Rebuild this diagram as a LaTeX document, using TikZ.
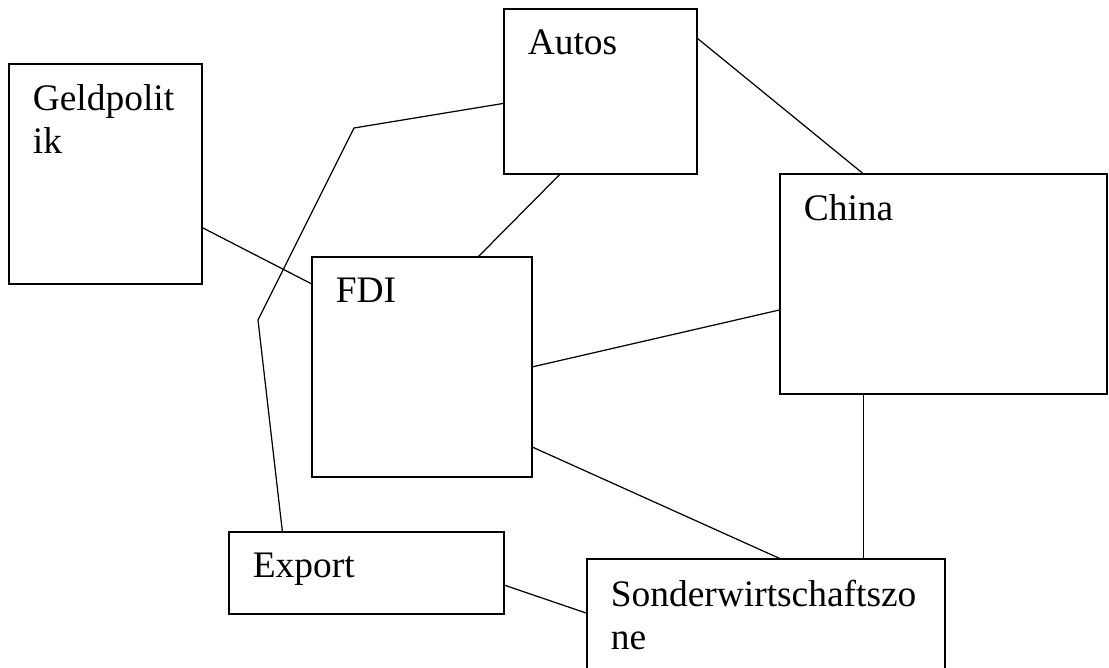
\documentclass[tikz,border=0pt]{standalone}
\usepackage{fontspec}
\setmainfont{Liberation Serif}
\usepackage{tikz}

\begin{document}
\begin{tikzpicture}[x=0.02cm, y=-0.02cm,
      box/.style={draw, line width=0.85pt, anchor=north west,
                  inner sep=0pt, outer sep=0pt},
      txt/.style={anchor=north west, inner xsep=0.47cm, inner ysep=0.41cm,
                  align=left, font=\fontsize{21.3}{24.5}\selectfont},
      lnk/.style={line width=0.7pt}
  ]
    \useasboundingbox (0,0) rectangle (1109,668);
    \clip (0,0) rectangle (1109,668);
    \node[box, minimum width=3.86cm, minimum height=4.4cm,
          label={[txt]north west:Geldpolit\\ik}] (geld) at (9,64) {};
    \node[box, minimum width=3.86cm, minimum height=3.3cm,
          label={[txt]north west:Autos}] (autos) at (504,9) {};
    \node[box, minimum width=6.54cm, minimum height=4.4cm,
          label={[txt]north west:China}] (china) at (780,174) {};
    \node[box, minimum width=4.4cm, minimum height=4.4cm,
          label={[txt]north west:FDI}] (fdi) at (312,257) {};
    \node[box, minimum width=5.5cm, minimum height=1.64cm,
          label={[txt]north west:Export}] (export) at (229,532) {};
    \node[box, minimum width=7.16cm, minimum height=2.8cm,
          label={[txt]north west:Sonderwirtschaftszo\\ne}] (sonder) at (587,559) {};
    \coordinate (knickA) at (354,128);
    \coordinate (knickB) at (258,320);
    \draw[lnk] (geld.-29.7)--(fdi.143);
    \draw[lnk] (autos.-116.7)--(fdi.63.4);
    \draw[lnk] (autos.29.5)--(china.126.5);
    \draw[lnk] (fdi.east)--(china.189.7);
    \draw[lnk] (fdi.-36.7)--(sonder.78.7);
    \draw[lnk] (china.-126.5)--(china.-126.5 |- sonder.north);
    \draw[lnk] (export.-5.8)--(sonder.175.2);
    \draw[lnk] (autos.187.4)--(knickA)--(knickB)--(export.154.1);
  \end{tikzpicture}
\end{document}
